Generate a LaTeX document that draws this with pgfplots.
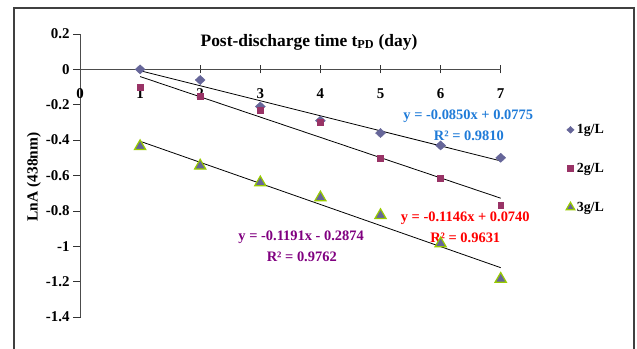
\documentclass[border=0pt]{standalone}
\usepackage{pgfplots}
\pgfplotsset{compat=1.18}
\usepackage{fontspec}
\setmainfont{Liberation Serif}
\definecolor{cone}{HTML}{666699}
\definecolor{ctwo}{HTML}{993366}
\definecolor{cedge}{HTML}{99CC00}
\definecolor{tblue}{HTML}{1F7BD8}
\definecolor{tpurple}{HTML}{800080}
\definecolor{tred}{HTML}{FF0000}
\begin{document}
\begin{tikzpicture}[x=1bp,y=1bp]
\useasboundingbox (0,0) rectangle (637,348);
\draw[black!75, line width=1.5bp] (14,-10) -- (14,340) -- (634,340) -- (634,-10);
\begin{axis}[
  at={(80bp,31bp)}, anchor=south west,
  scale only axis, width=420.7bp, height=283bp,
  xmin=0, xmax=7, ymin=-1.4, ymax=0.2,
  axis x line=middle, axis y line=left,
  axis line style={black!70, line width=0.8bp, -},
  hide obscured x ticks=false, hide obscured y ticks=false,
  clip=false,
  xtick={0,1,2,3,4,5,6,7},
  ytick={-1.4,-1.2,-1,-0.8,-0.6,-0.4,-0.2,0,0.2},
  yticklabels={-1.4,-1.2,-1,-0.8,-0.6,-0.4,-0.2,0,0.2},
  xticklabels={0,1,2,3,4,5,6,7},
  tick align=center, major tick length=8bp,
  tick style={black!80, line width=0.7bp},
  ytick style={xshift=-3bp},
  ticklabel style={font=\bfseries\fontsize{15}{16}\selectfont},
  xticklabel style={anchor=center, yshift=-20bp},
  yticklabel style={anchor=east, xshift=-3bp},
  legend style={draw=none, fill=none, at={(1.148,0.695)}, anchor=north west,
    row sep=24bp, font=\bfseries\fontsize{14}{16}\selectfont},
  legend cell align=left,
]
\addplot[only marks, mark=diamond*, mark size=4.6, mark options={xscale=1.45, fill=cone, draw=cone},
  legend image post style={mark size=3.4}]
  coordinates {(1,0) (2,-0.06) (3,-0.21) (4,-0.29) (5,-0.36) (6,-0.43) (7,-0.50)};
\addlegendentry{1g/L}
\addplot[only marks, mark=square*, mark size=3, mark options={fill=ctwo, draw=ctwo},
  legend image post style={mark size=3}]
  coordinates {(1,-0.10) (2,-0.15) (3,-0.23) (4,-0.30) (5,-0.50) (6,-0.615) (7,-0.77)};
\addlegendentry{2g/L}
\addplot[only marks, mark=triangle*, mark size=6.5, mark options={fill=cone, draw=cedge, line width=1.2bp},
  legend image post style={mark size=5}]
  coordinates {(1,-0.435) (2,-0.545) (3,-0.64) (4,-0.725) (5,-0.825) (6,-0.985) (7,-1.185)};
\addlegendentry{3g/L}
\addplot[black, line width=0.8bp, no marks, forget plot] coordinates {(1,-0.0075) (7,-0.5175)};
\addplot[black, line width=0.8bp, no marks, forget plot] coordinates {(1,-0.0406) (7,-0.7282)};
\addplot[black, line width=0.8bp, no marks, forget plot] coordinates {(1,-0.4065) (7,-1.1211)};
\node[font=\bfseries\fontsize{17.5}{19}\selectfont] at (axis cs:3.81,0.155) {Post-discharge time t\textsubscript{PD} (day)};
\node[font=\bfseries\fontsize{14.5}{16}\selectfont, text=tblue] at (axis cs:6.46,-0.263) {y = -0.0850x + 0.0775};
\node[font=\bfseries\fontsize{14.5}{16}\selectfont, text=tblue] at (axis cs:6.47,-0.376) {R² = 0.9810};
\node[font=\bfseries\fontsize{14.5}{16}\selectfont, text=tred] at (axis cs:6.41,-0.84) {y = -0.1146x + 0.0740};
\node[font=\bfseries\fontsize{14.5}{16}\selectfont, text=tred] at (axis cs:6.41,-0.95) {R² = 0.9631};
\node[font=\bfseries\fontsize{14.5}{16}\selectfont, text=tpurple] at (axis cs:3.68,-0.947) {y = -0.1191x - 0.2874};
\node[font=\bfseries\fontsize{14.5}{16}\selectfont, text=tpurple] at (axis cs:3.69,-1.06) {R² = 0.9762};
\end{axis}
\node[rotate=90, font=\bfseries\fontsize{15.5}{17}\selectfont] at (34,171) {LnA (438nm)};
\end{tikzpicture}
\end{document}
